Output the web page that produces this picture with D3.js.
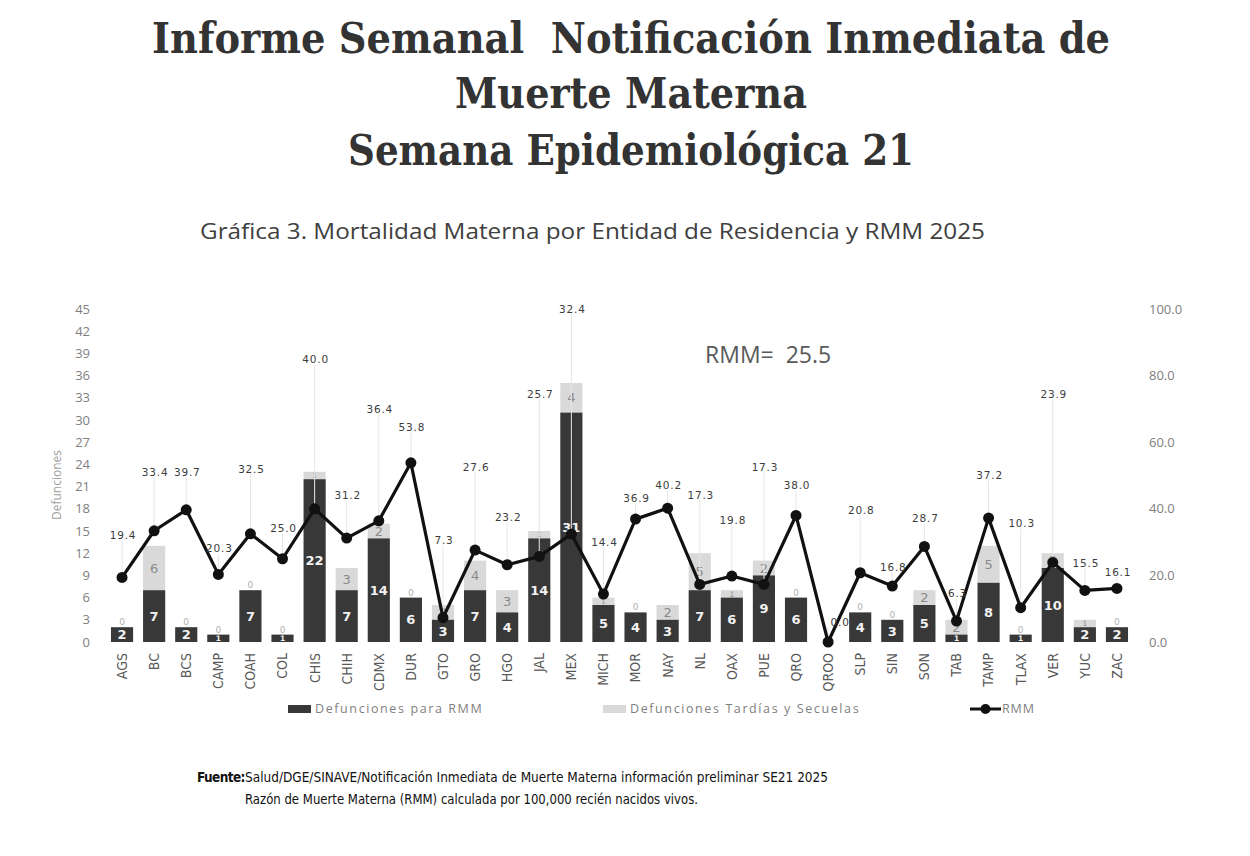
<!DOCTYPE html>
<html>
<head>
<meta charset="utf-8">
<script src="https://cdn.jsdelivr.net/npm/d3@7"></script>
<style>
  body { margin: 0; background: #fff; }
  #vis { width: 1250px; height: 856px; display: block; }
</style>
</head>
<body>
<svg id="vis" width="1250" height="856"></svg>
<script>

// data
var estados = ["AGS","BC","BCS","CAMP","COAH","COL","CHIS","CHIH","CDMX","DUR","GTO","GRO","HGO","JAL","MEX","MICH",
    "MOR","NAY","NL","OAX","PUE","QRO","QROO","SLP","SIN","SON","TAB","TAMP","TLAX","VER","YUC","ZAC"];

var defuncionesRMM = [2,7,2,1,7,1,22,7,14,6,3,7,4,14,31,5,4,3,7,6,9,6,0,4,3,5,1,8,1,10,2,2];

var defuncionesTardias = [0,6,0,0,0,0,1,3,2,0,2,4,3,1,4,1,0,2,5,1,2,0,0,0,0,2,2,5,0,2,1,0];

var rmm = [19.4,33.4,39.7,20.3,32.5,25.0,40.0,31.2,36.4,53.8,7.3,27.6,23.2,25.7,32.4,14.4,
    36.9,40.2,17.3,19.8,17.3,38.0,0.0,20.8,16.8,28.7,6.3,37.2,10.3,23.9,15.5,16.1];

// where each RMM label was dragged to, in RMM axis units
var rmmEtiqueta = [32,51,51,28,52,34,85,44,70,64.5,30.5,52.5,37.5,74.5,100,30,
    43,47,44,36.5,52.5,47,6,39.5,22.5,37,14.5,50,35.5,74.5,23.5,21];

var ticksIzq = [0,3,6,9,12,15,18,21,24,27,30,33,36,39,42,45];
var ticksDer = [0,20,40,60,80,100];

var rmmNacional = "RMM=  25.5";

var series = ["Defunciones para RMM", "Defunciones Tardías y Secuelas", "RMM"];


//layout
var chartLoc = {l: 106, r: 1133, top: 309, bottom: 642};

var colorOscuro = '#383838',
    colorClaro = '#d9d9d9';

var svg = d3.select('#vis');

drawTitles();
drawChart();
drawLegend();
drawFooter();


function drawTitles(){

    var titulo = ["Informe Semanal  Notificación Inmediata de", "Muerte Materna", "Semana Epidemiológica 21"];
    var anchos = [958, 352, 566];
    var bases = [53, 108, 165];

    svg.append('g')
        .attr('class','titulo')
        .selectAll('text')
        .data(titulo)
        .enter()
        .append('text')
        .attr('x', 631)
        .attr('y', function(d, i){ return bases[i]; })
        .attr('textLength', function(d, i){ return anchos[i]; })
        .attr('lengthAdjust', 'spacingAndGlyphs')
        .style('text-anchor','middle')
        .style('white-space','pre')
        .style('font-family','"DejaVu Serif Condensed", "DejaVu Serif", serif')
        .style('font-weight','bold')
        .style('font-size','43px')
        .attr('fill','#333333')
        .text(function(d){ return d; });

    svg.append('text')
        .attr('x', 200)
        .attr('y', 239)
        .attr('textLength', 785)
        .attr('lengthAdjust', 'spacingAndGlyphs')
        .style('font-family','"Open Sans", sans-serif')
        .style('font-size','21px')
        .attr('fill','#404040')
        .text('Gráfica 3. Mortalidad Materna por Entidad de Residencia y RMM 2025');
}


function drawChart(){

    var x = d3.scaleBand()
        .domain(estados)
        .range([chartLoc.l, chartLoc.r])
        .paddingInner(0.31)
        .paddingOuter(0.155);

    var yL = d3.scaleLinear().domain([0, 45]).range([chartLoc.bottom, chartLoc.top]);
    var yR = d3.scaleLinear().domain([0, 100]).range([chartLoc.bottom, chartLoc.top]);

    var g = svg.append('g').attr('class','chart');

    //left axis
    var axisL = g.append('g')
        .attr('class','axis axis--y')
        .attr('transform','translate(' + (chartLoc.l - 16) + ',0)')
        .call(d3.axisLeft(yL).tickValues(ticksIzq).tickSize(0).tickPadding(0));
    axisL.select('.domain').remove();
    axisL.selectAll('text')
        .attr('fill','#808080')
        .style('font-family','"Open Sans", sans-serif')
        .style('font-size','13px');

    //right axis
    var axisR = g.append('g')
        .attr('class','axis axis--y2')
        .attr('transform','translate(' + (chartLoc.r + 16) + ',0)')
        .call(d3.axisRight(yR).tickValues(ticksDer).tickFormat(d3.format('.1f')).tickSize(0).tickPadding(0));
    axisR.select('.domain').remove();
    axisR.selectAll('text')
        .attr('fill','#808080')
        .style('font-family','"Open Sans", sans-serif')
        .style('font-size','13px');

    //x axis, rotated labels
    var axisX = g.append('g')
        .attr('class','axis axis--x')
        .attr('transform','translate(0,' + (chartLoc.bottom + 11) + ')')
        .call(d3.axisBottom(x).tickSize(0));
    axisX.select('.domain').remove();
    axisX.selectAll('text')
        .attr('transform','rotate(-90)')
        .attr('x', 0)
        .attr('y', 0)
        .attr('dy','0.35em')
        .style('text-anchor','end')
        .attr('fill','#595959')
        .style('font-family','"DejaVu Sans Condensed", "Open Sans", sans-serif')
        .style('font-size','14px');

    g.append('text')
        .attr('transform','rotate(-90)')
        .attr('x', -485)
        .attr('y', 61)
        .style('text-anchor','middle')
        .style('font-family','"Open Sans", sans-serif')
        .style('font-size','12px')
        .attr('fill','#a0a0a0')
        .text('Defunciones');

    //stacked bars
    var filas = estados.map(function(d, i){
        return {estado: d, rmmDef: defuncionesRMM[i], tardias: defuncionesTardias[i]};
    });

    var bars = g.selectAll('.estado')
        .data(filas)
        .enter()
        .append('g')
        .attr('class','estado');

    bars.append('rect')
        .attr('x', function(d){ return x(d.estado); })
        .attr('y', function(d){ return yL(d.rmmDef + d.tardias); })
        .attr('width', x.bandwidth())
        .attr('height', function(d){ return yL(d.rmmDef) - yL(d.rmmDef + d.tardias); })
        .attr('fill', colorClaro);

    bars.append('rect')
        .attr('x', function(d){ return x(d.estado); })
        .attr('y', function(d){ return yL(d.rmmDef); })
        .attr('width', x.bandwidth())
        .attr('height', function(d){ return yL(0) - yL(d.rmmDef); })
        .attr('fill', colorOscuro);

    //label size follows the segment height so small segments keep small numbers
    function tamano(n){
        var h = yL(0) - yL(n);
        return Math.min(13, Math.max(6, h)) + 'px';
    }

    bars.filter(function(d){ return d.rmmDef > 0; })
        .append('text')
        .attr('x', function(d){ return x(d.estado) + x.bandwidth()/2; })
        .attr('y', function(d){ return (yL(d.rmmDef) + yL(0))/2; })
        .attr('dy','0.36em')
        .style('text-anchor','middle')
        .style('font-family','"DejaVu Sans", sans-serif')
        .style('font-weight','bold')
        .style('font-size', function(d){ return tamano(d.rmmDef); })
        .attr('fill','#f2f2f2')
        .text(function(d){ return d.rmmDef; });

    bars.filter(function(d, i){ return estados[i] != 'QROO'; })
        .append('text')
        .attr('x', function(d){ return x(d.estado) + x.bandwidth()/2; })
        .attr('y', function(d){
            if (d.tardias == 0) return yL(d.rmmDef) - 2;
            return (yL(d.rmmDef) + yL(d.rmmDef + d.tardias))/2;
        })
        .attr('dy', function(d){ return d.tardias == 0 ? '0' : '0.36em'; })
        .style('text-anchor','middle')
        .style('font-family','"DejaVu Sans", sans-serif')
        .style('font-size', function(d){ return d.tardias == 0 ? '9px' : tamano(d.tardias); })
        .attr('fill', function(d){ return d.tardias == 0 ? '#b0b0b0' : '#8a8a8a'; })
        .text(function(d){ return d.tardias; });

    //RMM leader lines
    g.selectAll('.guia')
        .data(rmm)
        .enter()
        .append('line')
        .attr('class','guia')
        .attr('x1', function(d, i){ return x(estados[i]) + x.bandwidth()/2; })
        .attr('x2', function(d, i){ return x(estados[i]) + x.bandwidth()/2; })
        .attr('y1', function(d, i){ return yR(rmmEtiqueta[i]) + 5; })
        .attr('y2', function(d){ return yR(d); })
        .attr('stroke', function(d, i){ return yR(rmmEtiqueta[i]) + 14 < yR(d) ? '#e6e6e6' : 'none'; })
        .attr('stroke-width', 1);

    //RMM line
    var line = d3.line()
        .x(function(d, i){ return x(estados[i]) + x.bandwidth()/2; })
        .y(function(d){ return yR(d); });

    g.append('path')
        .datum(rmm)
        .attr('d', line)
        .attr('fill','none')
        .attr('stroke','#111')
        .attr('stroke-width', 3.2)
        .attr('stroke-linejoin','round');

    g.selectAll('.punto')
        .data(rmm)
        .enter()
        .append('circle')
        .attr('class','punto')
        .attr('cx', function(d, i){ return x(estados[i]) + x.bandwidth()/2; })
        .attr('cy', function(d){ return yR(d); })
        .attr('r', 5.5)
        .attr('fill','#111');

    g.selectAll('.etiqueta')
        .data(rmm)
        .enter()
        .append('text')
        .attr('class','etiqueta')
        .attr('x', function(d, i){
            // the zero label sits beside its point, not above it
            return x(estados[i]) + x.bandwidth()/2 + (d == 0 ? 12 : 1);
        })
        .attr('y', function(d, i){ return yR(rmmEtiqueta[i]); })
        .attr('dy','0.35em')
        .style('text-anchor','middle')
        .style('font-family','"DejaVu Sans", sans-serif')
        .style('font-size','10.5px')
        .style('letter-spacing','0.8px')
        .attr('fill','#3c3c3c')
        .text(function(d){ return d3.format('.1f')(d); });

    g.append('text')
        .attr('x', 705)
        .attr('y', 363)
        .style('font-family','"Open Sans", sans-serif')
        .style('font-size','23px')
        .style('white-space','pre')
        .attr('fill','#595959')
        .text(rmmNacional);
}


function drawLegend(){

    var legend = svg.append('g')
        .attr('class','legend')
        .attr('transform','translate(0,709)');

    var posX = [288, 603, 970];

    var item = legend.selectAll('.item')
        .data(series)
        .enter()
        .append('g')
        .attr('class','item')
        .attr('transform', function(d, i){ return 'translate(' + posX[i] + ',0)'; });

    item.filter(function(d, i){ return i < 2; })
        .append('rect')
        .attr('x', 0)
        .attr('y', -4)
        .attr('width', 23)
        .attr('height', 8)
        .attr('fill', function(d, i){ return i == 0 ? colorOscuro : colorClaro; });

    var rmmItem = item.filter(function(d, i){ return i == 2; });
    rmmItem.append('line')
        .attr('x1', 0).attr('x2', 31)
        .attr('y1', 0).attr('y2', 0)
        .attr('stroke','#111')
        .attr('stroke-width', 3);
    rmmItem.append('circle')
        .attr('cx', 15.5).attr('cy', 0)
        .attr('r', 5)
        .attr('fill','#111');

    item.append('text')
        .attr('x', function(d, i){ return i == 2 ? 32 : 27; })
        .attr('y', 0)
        .attr('dy','0.35em')
        .style('font-family','"Open Sans", sans-serif')
        .style('font-size','12.5px')
        .style('letter-spacing', function(d, i){ return i == 2 ? '0.9px' : '1.6px'; })
        .attr('fill','#7f7f7f')
        .text(function(d){ return d; });
}


function drawFooter(){

    var pie = svg.append('g')
        .attr('class','fuente')
        .style('font-family','"Liberation Sans Narrow", "DejaVu Sans Condensed", sans-serif')
        .style('font-size','13.5px')
        .attr('fill','#111');

    pie.append('text')
        .attr('x', 197)
        .attr('y', 782)
        .style('font-weight','bold')
        .style('letter-spacing','-0.6px')
        .text('Fuente:');

    pie.append('text')
        .attr('x', 245)
        .attr('y', 782)
        .attr('textLength', 583)
        .attr('lengthAdjust','spacingAndGlyphs')
        .text('Salud/DGE/SINAVE/Notificación Inmediata de Muerte Materna información preliminar SE21 2025');

    pie.append('text')
        .attr('x', 245)
        .attr('y', 804)
        .attr('textLength', 453)
        .attr('lengthAdjust','spacingAndGlyphs')
        .text('Razón de Muerte Materna (RMM) calculada por 100,000 recién nacidos vivos.');
}

</script>
</body>
</html>
